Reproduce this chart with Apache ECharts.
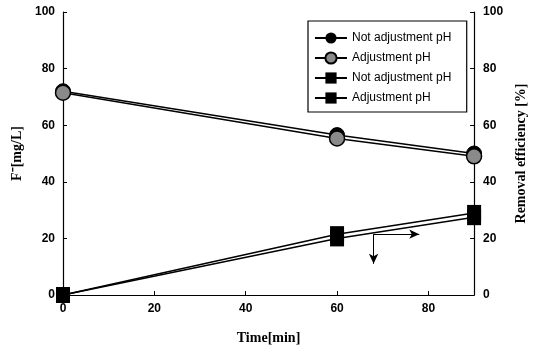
<!DOCTYPE html>
<html>
<head>
<meta charset="utf-8">
<script src="https://cdn.jsdelivr.net/npm/echarts@6/dist/echarts.min.js"></script>
<style>
html, body { margin: 0; padding: 0; background: #fff; }
#chart { width: 536px; height: 350px; }
</style>
</head>
<body>
<div id="chart"></div>
<script>
// 时间点 (min)
var times = [0, 60, 90];
// F- 浓度 (左轴)
var fNotAdjust = [72, 56.5, 50];
var fAdjust = [71.5, 55.3, 49];
// 去除率 (右轴)
var effNotAdjust = [0, 21.5, 29];
var effAdjust = [0, 20, 27.5];
// 指向右轴的箭头
var arrowStart = [68, 21.5];
var arrowRight = [78, 21.5];
var arrowDown = [68, 11];

function pairs(xs, ys) {
	return xs.map(function(x, i) { return [x, ys[i]]; });
}

var chart = echarts.init(document.getElementById('chart'));
var tickFont = { color: '#000', fontFamily: 'Liberation Sans', fontSize: 12, fontWeight: 'bold' };
var titleFont = { color: '#000', fontFamily: 'Liberation Serif', fontSize: 14, fontWeight: 'bold' };
var axisLine = { show: true, lineStyle: { color: '#000', width: 1.2 } };

var lineStyle = { color: '#000', width: 1.5 };

chart.setOption({
	backgroundColor: '#fff',
	animation: false,
	grid: { left: 63, right: 61, top: 12, bottom: 52 },
	legend: {
		orient: 'vertical',
		left: 308,
		top: 21,
		width: 156,
		padding: [10, 12, 7, 6],
		itemGap: 6,
		itemWidth: 32,
		itemHeight: 14,
		borderColor: '#000',
		borderWidth: 1.2,
		backgroundColor: '#fff',
		textStyle: { color: '#000', fontFamily: 'Liberation Sans', fontSize: 12, lineHeight: 14 },
		data: ['Not adjustment pH', 'Adjustment pH', 'Not adjustment pH ', 'Adjustment pH ']
	},
	xAxis: {
		type: 'value',
		min: 0, max: 90, interval: 20,
		name: 'Time[min]', nameLocation: 'middle', nameGap: 36,
		nameTextStyle: titleFont,
		axisLine: axisLine,
		axisTick: { inside: true, length: 4, lineStyle: { color: '#000' } },
		axisLabel: Object.assign({ showMaxLabel: false }, tickFont),
		splitLine: { show: false }
	},
	yAxis: [{
		type: 'value',
		min: 0, max: 100, interval: 20,
		name: 'F\u207B[mg/L]', nameLocation: 'middle', nameGap: 38, nameRotate: 90,
		nameTextStyle: titleFont,
		axisLine: axisLine,
		axisTick: { show: true, inside: true, length: 4, lineStyle: { color: '#000' } },
		axisLabel: tickFont,
		splitLine: { show: false }
	}, {
		type: 'value',
		position: 'right',
		min: 0, max: 100, interval: 20,
		name: 'Removal efficiency [%]', nameLocation: 'middle', nameGap: 30, nameRotate: 90,
		nameTextStyle: titleFont,
		axisLine: axisLine,
		axisTick: { show: true, inside: true, length: 4, lineStyle: { color: '#000' } },
		axisLabel: Object.assign({ margin: 9 }, tickFont),
		splitLine: { show: false }
	}],
	series: [{
		name: 'Not adjustment pH',
		type: 'line',
		yAxisIndex: 0,
		data: pairs(times, fNotAdjust),
		symbol: 'circle', symbolSize: 15,
		itemStyle: { color: '#000', borderColor: '#000' },
		lineStyle: lineStyle,
		z: 3
	}, {
		name: 'Adjustment pH',
		type: 'line',
		yAxisIndex: 0,
		data: pairs(times, fAdjust),
		symbol: 'circle', symbolSize: 15,
		itemStyle: { color: '#8a8a8a', borderColor: '#000', borderWidth: 1.5 },
		lineStyle: lineStyle,
		z: 4
	}, {
		name: 'Not adjustment pH ',
		type: 'line',
		yAxisIndex: 1,
		data: pairs(times, effNotAdjust),
		symbol: 'rect', symbolSize: [14, 16],
		itemStyle: { color: '#000' },
		lineStyle: lineStyle,
		z: 3
	}, {
		name: 'Adjustment pH ',
		type: 'line',
		yAxisIndex: 1,
		data: pairs(times, effAdjust),
		symbol: 'rect', symbolSize: [14, 16],
		itemStyle: { color: '#000' },
		lineStyle: lineStyle,
		z: 4,
		markLine: {
			silent: true,
			symbol: ['none', 'arrow'],
			symbolSize: [7, 10],
			label: { show: false },
			lineStyle: { color: '#000', width: 1, type: 'solid' },
			data: [
				[{ coord: arrowStart }, { coord: arrowRight }],
				[{ coord: arrowStart }, { coord: arrowDown }]
			]
		}
	}]
});
</script>
</body>
</html>
